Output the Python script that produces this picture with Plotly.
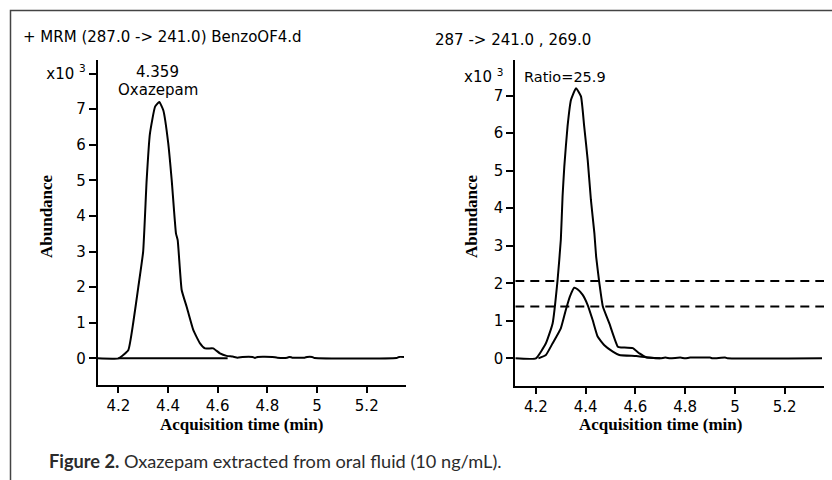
import plotly.graph_objects as go

# ---------------- data ----------------
# Left panel: quantifier transition 287.0 -> 241.0 (abundance x10^3)
left_time = [4.117, 4.20, 4.24, 4.26, 4.28, 4.30, 4.314, 4.327, 4.348, 4.365, 4.381, 4.401,
             4.415, 4.432, 4.439, 4.455, 4.475, 4.502, 4.529, 4.549, 4.582, 4.609, 4.636,
             4.66, 4.68, 4.70, 4.74, 4.75, 4.76, 4.82, 4.84, 4.88, 4.89, 4.90, 4.95, 4.96,
             4.98, 4.99, 5.32, 5.33, 5.35]
left_abund = [0.0, 0.0, 0.23, 1.0, 1.98, 3.0, 5.0, 6.3, 7.07, 7.2, 6.97, 6.04,
              5.0, 3.51, 3.32, 1.92, 1.45, 0.79, 0.42, 0.28, 0.28, 0.14, 0.07,
              0.05, 0.02, 0.04, 0.04, 0.01, 0.04, 0.04, 0.02, 0.02, 0.04, 0.02, 0.02, 0.04,
              0.04, 0.01, 0.01, 0.04, 0.04]
left_baseline_time = [4.20, 4.64]
left_baseline_abund = [0.0, 0.0]

# Right panel: overlay of quantifier (241.0) and qualifier (269.0)
quant_time = [4.117, 4.20, 4.24, 4.267, 4.287, 4.30, 4.307, 4.314, 4.327, 4.341, 4.361, 4.381,
              4.394, 4.408, 4.421, 4.435, 4.442, 4.455, 4.469, 4.495, 4.529, 4.543, 4.589,
              4.616, 4.643, 4.70, 4.72, 4.74, 4.78, 4.80, 4.82, 4.90, 4.91, 4.96, 4.97, 5.35]
quant_abund = [0.0, 0.0, 0.4, 0.93, 2.09, 3.16, 4.31, 5.11, 6.18, 6.89, 7.2, 6.98,
               6.18, 5.29, 4.22, 3.33, 2.71, 2.0, 1.38, 0.93, 0.31, 0.29, 0.27,
               0.13, 0.03, 0.0, 0.02, 0.0, 0.02, 0.0, 0.02, 0.02, 0.0, 0.02, 0.0, 0.0]
qual_time = [4.21, 4.24, 4.267, 4.30, 4.32, 4.336, 4.354, 4.367, 4.388, 4.408, 4.428, 4.448,
             4.475, 4.509, 4.535, 4.603, 4.643, 4.70]
qual_abund = [0.0, 0.09, 0.4, 0.8, 1.29, 1.64, 1.88, 1.84, 1.69, 1.42, 1.02, 0.58,
              0.35, 0.18, 0.09, 0.06, 0.03, 0.0]
ratio_limits = [2.06, 1.38]

x_ticks = [4.2, 4.4, 4.6, 4.8, 5.0, 5.2]
x_tick_labels = ["4.2", "4.4", "4.6", "4.8", "5", "5.2"]
left_y_ticks = [0, 1, 2, 3, 4, 5, 6, 7, 8]
left_y_labels = ["0", "1", "2", "3", "4", "5", "6", "7", "x10 <sup>3</sup>"]
right_y_ticks = [0, 1, 2, 3, 4, 5, 6, 7]
right_y_labels = ["0", "1", "2", "3", "4", "5", "6", "7"]

left_title = "+ MRM (287.0 -> 241.0) BenzoOF4.d"
right_title = "287 -> 241.0 , 269.0"
peak_rt = 4.359
peak_name = "Oxazepam"
ratio_text = "Ratio=25.9"
caption_bold = "Figure 2."
caption_text = " Oxazepam extracted from oral fluid (10 ng/mL)."

# ---------------- figure ----------------
W, H = 832, 480
def px(x):
    return x / W
def py(y):
    return 1 - y / H

line_style = dict(color="black", width=2, shape="spline", smoothing=0.4)
flat_style = dict(color="black", width=2)
fig = go.Figure()
fig.add_trace(go.Scatter(x=left_time, y=left_abund, mode="lines", line=line_style,
                         xaxis="x", yaxis="y", showlegend=False))
fig.add_trace(go.Scatter(x=left_baseline_time, y=left_baseline_abund, mode="lines",
                         line=flat_style, xaxis="x", yaxis="y", showlegend=False))
fig.add_trace(go.Scatter(x=quant_time, y=quant_abund, mode="lines", line=line_style,
                         xaxis="x2", yaxis="y2", showlegend=False))
fig.add_trace(go.Scatter(x=qual_time, y=qual_abund, mode="lines", line=line_style,
                         xaxis="x2", yaxis="y2", showlegend=False))
for v in ratio_limits:
    fig.add_trace(go.Scatter(x=[4.117, 5.36], y=[v, v], mode="lines",
                             line=dict(color="black", width=2, dash="9px,6px"),
                             xaxis="x2", yaxis="y2", showlegend=False))

tick_font = dict(family="DejaVu Sans", size=15, color="black")
xaxis_common = dict(range=[4.117, 5.358], tickvals=x_ticks, ticktext=x_tick_labels,
                    showline=True, linecolor="black", linewidth=2, showgrid=False,
                    zeroline=False, tickfont=tick_font, ticks="outside", ticklen=6,
                    tickwidth=1.5, tickcolor="black")
yaxis_common = dict(showline=True, linecolor="black", linewidth=2, showgrid=False,
                    zeroline=False, tickfont=tick_font, ticks="outside", ticklen=7,
                    tickwidth=1.5, tickcolor="black")

fig.update_layout(
    width=W, height=H,
    margin=dict(l=0, r=0, t=0, b=0),
    paper_bgcolor="white", plot_bgcolor="white",
    xaxis=dict(domain=[px(97.7), px(406)], anchor="y", **xaxis_common),
    yaxis=dict(domain=[py(384.7), py(60)], anchor="x", range=[-0.74, 8.38],
               tickvals=left_y_ticks, ticktext=left_y_labels, **yaxis_common),
    xaxis2=dict(domain=[px(515.3), px(824)], anchor="y2", **xaxis_common),
    yaxis2=dict(domain=[py(385.7), py(60)], anchor="x2", range=[-0.73, 7.95],
                tickvals=right_y_ticks, ticktext=right_y_labels, **yaxis_common),
)

ann_font = dict(family="DejaVu Sans", size=15, color="black")
title_font = dict(family="Liberation Serif", size=17, color="black")
annotations = [
    dict(text=left_title, x=px(21), y=py(37), xref="paper", yref="paper",
         xanchor="left", yanchor="middle", showarrow=False, font=ann_font),
    dict(text=right_title, x=px(433), y=py(40), xref="paper", yref="paper",
         xanchor="left", yanchor="middle", showarrow=False, font=ann_font),
    dict(text=f"{peak_rt:.3f}", x=peak_rt, y=8.05, xref="x", yref="y",
         xanchor="center", yanchor="middle", showarrow=False,
         font=dict(family="DejaVu Sans", size=15, color="black")),
    dict(text=peak_name, x=peak_rt, y=7.54, xref="x", yref="y",
         xanchor="center", yanchor="middle", showarrow=False,
         font=dict(family="DejaVu Sans", size=15, color="black")),
    dict(text=ratio_text, x=px(522), y=py(77), xref="paper", yref="paper",
         xanchor="left", yanchor="middle", showarrow=False,
         font=dict(family="DejaVu Sans", size=14.5, color="black")),
    dict(text="x10 <sup>3</sup>", x=px(505), y=py(76), xref="paper", yref="paper",
         xanchor="right", yanchor="middle", showarrow=False,
         font=dict(family="DejaVu Sans", size=15, color="black")),
    dict(text="<b>Abundance</b>", x=px(47), y=py(216), xref="paper", yref="paper",
         textangle=-90, xanchor="center", yanchor="middle", showarrow=False, font=title_font),
    dict(text="<b>Abundance</b>", x=px(472), y=py(216), xref="paper", yref="paper",
         textangle=-90, xanchor="center", yanchor="middle", showarrow=False, font=title_font),
    dict(text="<b>Acquisition time (min)</b>", x=px(241), y=py(424), xref="paper", yref="paper",
         xanchor="center", yanchor="middle", showarrow=False, font=title_font),
    dict(text="<b>Acquisition time (min)</b>", x=px(660), y=py(424), xref="paper", yref="paper",
         xanchor="center", yanchor="middle", showarrow=False, font=title_font),
    dict(text=f"<b>{caption_bold}</b>{caption_text}", x=px(47), y=py(461),
         xref="paper", yref="paper", xanchor="left", yanchor="middle", showarrow=False,
         font=dict(family="Lato", size=18.2, color="#2b2b2b")),
]
fig.update_layout(annotations=annotations)

fig.add_shape(type="rect", xref="paper", yref="paper",
              x0=px(10.5), x1=1.02, y0=-0.02, y1=py(10.5),
              line=dict(color="#444444", width=1.5), fillcolor="rgba(0,0,0,0)")

fig.write_html("out.html")
